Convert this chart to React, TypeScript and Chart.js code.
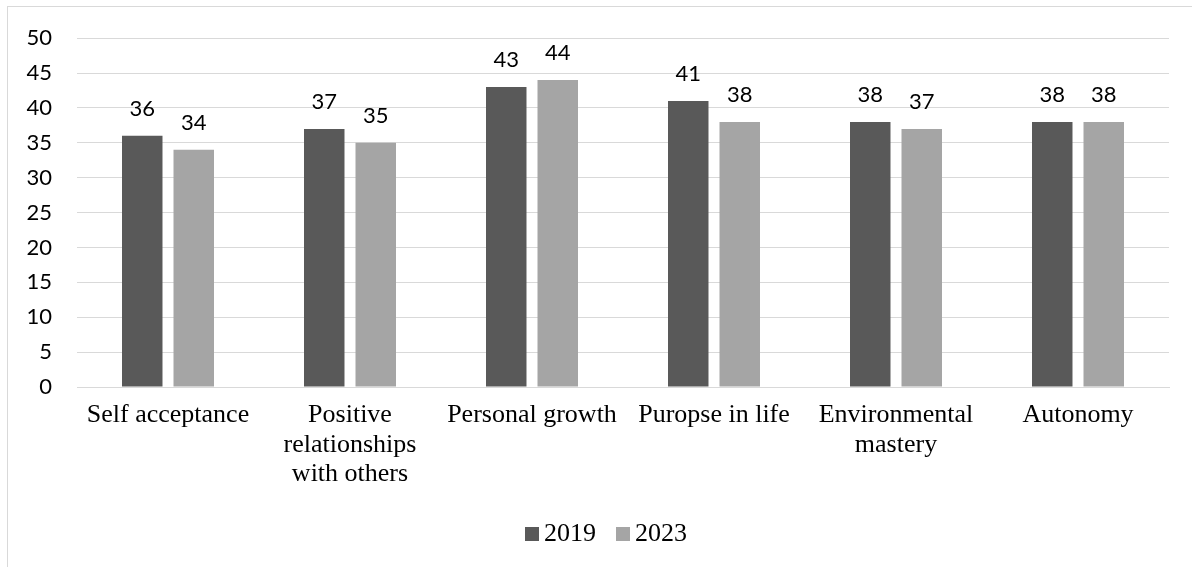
import React, { useEffect, useRef } from "react";
import { Chart, registerables } from "chart.js";

Chart.register(...registerables);

const categories: string[][] = [
  ["Self acceptance"],
  ["Positive", "relationships", "with others"],
  ["Personal growth"],
  ["Puropse in life"],
  ["Environmental", "mastery"],
  ["Autonomy"],
];
const seriesLabels = ["2019", "2023"];
const values2019 = [36, 37, 43, 41, 38, 38];
const values2023 = [34, 35, 44, 38, 37, 38];
const yMin = 0;
const yMax = 50;
const yStep = 5;

const SANS = "Lato";
const SERIF = "'Liberation Serif'";

const valueLabels = {
  id: "valueLabels",
  afterDatasetsDraw(chart: any) {
    const ctx = chart.ctx;
    ctx.save();
    ctx.font = `22px ${SANS}`;
    ctx.fillStyle = "#000000";
    ctx.textAlign = "center";
    ctx.textBaseline = "alphabetic";
    chart.data.datasets.forEach((ds: any, i: number) => {
      chart.getDatasetMeta(i).data.forEach((bar: any, j: number) => {
        ctx.fillText(String(ds.data[j]), bar.x, bar.y - 20);
      });
    });
    ctx.restore();
  },
};

const bottomLegend = {
  id: "bottomLegend",
  afterDraw(chart: any, _args: any, opts: any) {
    const ctx = chart.ctx;
    ctx.save();
    ctx.font = `26px ${SERIF}`;
    const items = chart.data.datasets.map((ds: any) => ({
      text: ds.label,
      color: ds.backgroundColor,
      w: ctx.measureText(ds.label).width,
    }));
    const box = opts.box;
    const gap = opts.gap;
    const itemGap = opts.itemGap;
    const total =
      items.reduce((s: number, it: any) => s + box + gap + it.w, 0) +
      itemGap * (items.length - 1);
    let x = opts.centerX - total / 2;
    const baseline = opts.baseline;
    items.forEach((it: any) => {
      ctx.fillStyle = it.color;
      ctx.fillRect(x, baseline - box, box, box);
      x += box + gap;
      ctx.fillStyle = "#000000";
      ctx.textAlign = "left";
      ctx.textBaseline = "alphabetic";
      ctx.fillText(it.text, x, baseline);
      x += it.w + itemGap;
    });
    ctx.restore();
  },
};

export default function App() {
  const ref = useRef<HTMLCanvasElement | null>(null);

  useEffect(() => {
    if (!ref.current) return;
    const chart = new Chart(ref.current, {
      type: "bar",
      data: {
        labels: categories,
        datasets: [
          {
            label: seriesLabels[0],
            data: values2019,
            backgroundColor: "#595959",
            categoryPercentage: 0.566,
            barPercentage: 0.786,
          },
          {
            label: seriesLabels[1],
            data: values2023,
            backgroundColor: "#a5a5a5",
            categoryPercentage: 0.566,
            barPercentage: 0.786,
          },
        ],
      },
      options: {
        animation: false,
        responsive: false,
        devicePixelRatio: 1,
        layout: { padding: { left: 20, right: 23, top: 35, bottom: 60 } },
        plugins: {
          legend: { display: false },
          tooltip: { enabled: false },
          bottomLegend: { centerX: 606, baseline: 541, box: 14, gap: 5, itemGap: 20 },
        } as any,
        scales: {
          x: {
            grid: { display: false, drawTicks: false },
            border: { display: true, color: "#d9d9d9", width: 1 },
            ticks: {
              autoSkip: false,
              maxRotation: 0,
              minRotation: 0,
              padding: 14,
              color: "#000000",
              font: { family: SERIF, size: 26, lineHeight: 1.12 },
            },
            afterFit(scale: any) {
              scale.height = 120;
            },
          },
          y: {
            min: yMin,
            max: yMax,
            grid: { color: "#d9d9d9", lineWidth: 1, drawTicks: false },
            border: { display: false },
            ticks: {
              stepSize: yStep,
              padding: 25,
              color: "#000000",
              font: { family: SANS, size: 22 },
            },
            afterFit(scale: any) {
              scale.width = 57;
            },
          },
        },
      },
      plugins: [valueLabels, bottomLegend],
    });
    return () => chart.destroy();
  }, []);

  return (
    <div
      style={{
        position: "absolute",
        left: 0,
        top: 0,
        width: 1192,
        height: 567,
        overflow: "hidden",
        background: "#ffffff",
      }}
    >
      <div
        style={{
          position: "absolute",
          left: 7,
          top: 6,
          width: 1400,
          height: 800,
          border: "1px solid #d9d9d9",
          boxSizing: "border-box",
        }}
      />
      <canvas
        ref={ref}
        width={1192}
        height={567}
        style={{ position: "absolute", left: 0, top: 0, width: 1192, height: 567 }}
      />
    </div>
  );
}
